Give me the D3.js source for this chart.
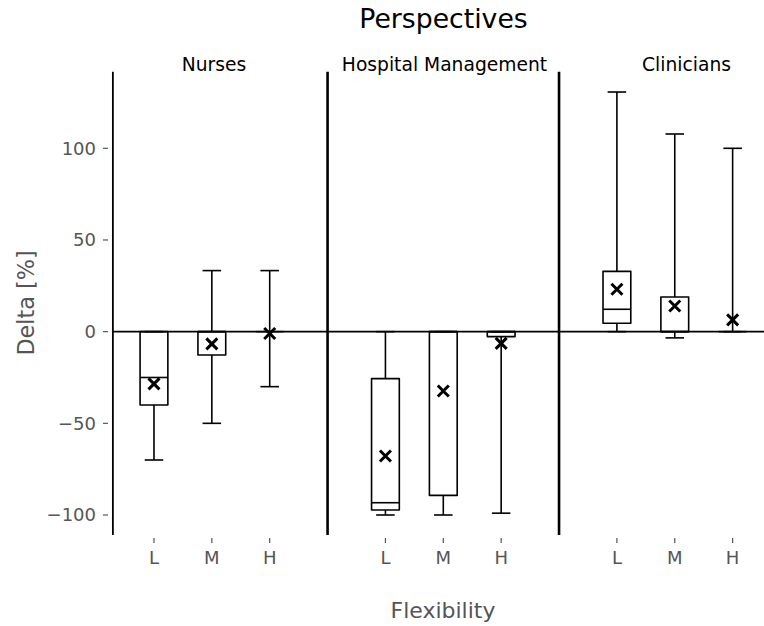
<!DOCTYPE html>
<html>
<head>
<meta charset="utf-8">
<script src="https://cdn.jsdelivr.net/npm/d3@7"></script>
<style>
  body { margin: 0; background: #fff; }
  text { font-family: 'DejaVu Sans', sans-serif; }
</style>
</head>
<body>
<svg id="chart" width="764" height="626"></svg>
<script>
// Data
const groups = ['Nurses', 'Hospital Management', 'Clinicians']
const levels = ['L', 'M', 'H']
const yTicks = [-100, -50, 0, 50, 100]
// one entry per box: Nurses L,M,H / Hospital Management L,M,H / Clinicians L,M,H
const whiskerLow = [-70, -50, -30, -100, -100, -99, 0, -3.4, 0]
const q1 = [-40, -12.7, 0, -97.3, -89.3, -2.7, 4.6, 0, 0]
const median = [-25, 0, 0, -93.3, 0, 0, 12.2, 0, 0]
const q3 = [0, 0, 0, -25.6, 0, 0, 32.9, 18.9, 0]
const whiskerHigh = [0, 33.3, 33.3, 0, 0, 0, 130.7, 107.8, 100]
const means = [-28.5, -6.7, -1, -67.8, -32.4, -6.4, 23.1, 14.0, 6.4]

const W = 764
const H = 626

// box position: group g, level i -> 4*g + i + 1
const boxes = whiskerLow.map((_, k) => {
  const g = Math.floor(k / 3)
  const i = k % 3
  return {
    pos: 4 * g + i + 1,
    level: levels[i],
    low: whiskerLow[k], q1: q1[k], med: median[k], q3: q3[k], high: whiskerHigh[k], mean: means[k]
  }
})

const xScale = d3.scaleLinear().domain([0, 12]).range([96.1, 790.5])
const yScale = d3.scaleLinear().domain([-100, 100]).range([515, 148.3])
const xMin = 0.29
const yMin = -110.9
const yMax = 141.7

const svg = d3.select('#chart')

// Title
svg.append('text')
  .attr('x', 443.5).attr('y', 28)
  .attr('text-anchor', 'middle')
  .style('font-size', '26.7px')
  .text('Perspectives')

// Group labels
const groupCenters = [214, 444.5, 686.5]
svg.selectAll('.group-label')
  .data(groups)
  .enter()
  .append('text')
  .attr('class', 'group-label')
  .attr('x', (d, i) => groupCenters[i])
  .attr('y', 71)
  .attr('text-anchor', 'middle')
  .style('font-size', '18.7px')
  .text(d => d)

// Y ticks (drawn left of the spine)
const yAxisG = svg.append('g')
yAxisG.selectAll('line')
  .data(yTicks)
  .enter()
  .append('line')
  .attr('x1', 103).attr('x2', 108)
  .attr('y1', d => yScale(d)).attr('y2', d => yScale(d))
  .attr('stroke', '#555').attr('stroke-width', 1.2)
yAxisG.selectAll('text')
  .data(yTicks)
  .enter()
  .append('text')
  .attr('x', 96)
  .attr('y', d => yScale(d))
  .attr('dy', '0.36em')
  .attr('text-anchor', 'end')
  .attr('fill', '#555')
  .style('font-size', '18px')
  .text(d => d < 0 ? '\u2212' + Math.abs(d) : d)

// X ticks
const xAxisG = svg.append('g')
xAxisG.selectAll('line')
  .data(boxes)
  .enter()
  .append('line')
  .attr('x1', d => xScale(d.pos)).attr('x2', d => xScale(d.pos))
  .attr('y1', 538).attr('y2', 543)
  .attr('stroke', '#555').attr('stroke-width', 1.2)
xAxisG.selectAll('text')
  .data(boxes)
  .enter()
  .append('text')
  .attr('x', d => xScale(d.pos))
  .attr('y', 564)
  .attr('text-anchor', 'middle')
  .attr('fill', '#555')
  .style('font-size', '18px')
  .text(d => d.level)

// Axis labels
svg.append('text')
  .attr('x', 443).attr('y', 618)
  .attr('text-anchor', 'middle')
  .attr('fill', '#555')
  .style('font-size', '22px')
  .text('Flexibility')

svg.append('text')
  .attr('transform', 'translate(34, 303) rotate(-90)')
  .attr('text-anchor', 'middle')
  .attr('fill', '#555')
  .style('font-size', '22.3px')
  .text('Delta [%]')

// Spine and separators
svg.append('line')
  .attr('x1', xScale(xMin)).attr('x2', xScale(xMin))
  .attr('y1', yScale(yMax)).attr('y2', yScale(yMin))
  .attr('stroke', '#000').attr('stroke-width', 1.8)
svg.selectAll('.sep')
  .data([4, 8])
  .enter()
  .append('line')
  .attr('class', 'sep')
  .attr('x1', d => xScale(d)).attr('x2', d => xScale(d))
  .attr('y1', yScale(yMax)).attr('y2', yScale(yMin))
  .attr('stroke', '#000').attr('stroke-width', 2.6)

// Zero line
svg.append('line')
  .attr('x1', xScale(xMin)).attr('x2', W)
  .attr('y1', yScale(0)).attr('y2', yScale(0))
  .attr('stroke', '#000').attr('stroke-width', 1.6)

// Boxes
const boxW = 0.48
const capW = 0.32
const bx = svg.selectAll('.box')
  .data(boxes)
  .enter()
  .append('g')
  .attr('class', 'box')
  .attr('stroke', '#000')
  .attr('stroke-width', 1.6)
  .attr('fill', 'none')
  .attr('stroke-linejoin', 'round')

// whiskers
bx.append('line')
  .attr('x1', d => xScale(d.pos)).attr('x2', d => xScale(d.pos))
  .attr('y1', d => yScale(d.low)).attr('y2', d => yScale(d.q1))
bx.append('line')
  .attr('x1', d => xScale(d.pos)).attr('x2', d => xScale(d.pos))
  .attr('y1', d => yScale(d.q3)).attr('y2', d => yScale(d.high))
// caps
bx.append('line')
  .attr('x1', d => xScale(d.pos - capW / 2)).attr('x2', d => xScale(d.pos + capW / 2))
  .attr('y1', d => yScale(d.low)).attr('y2', d => yScale(d.low))
bx.append('line')
  .attr('x1', d => xScale(d.pos - capW / 2)).attr('x2', d => xScale(d.pos + capW / 2))
  .attr('y1', d => yScale(d.high)).attr('y2', d => yScale(d.high))
// box
bx.append('rect')
  .attr('x', d => xScale(d.pos - boxW / 2))
  .attr('width', d => xScale(d.pos + boxW / 2) - xScale(d.pos - boxW / 2))
  .attr('y', d => yScale(d.q3))
  .attr('height', d => yScale(d.q1) - yScale(d.q3))
// median
bx.append('line')
  .attr('x1', d => xScale(d.pos - boxW / 2)).attr('x2', d => xScale(d.pos + boxW / 2))
  .attr('y1', d => yScale(d.med)).attr('y2', d => yScale(d.med))

// Mean markers (x)
const m = 5.5
svg.selectAll('.mean')
  .data(boxes)
  .enter()
  .append('path')
  .attr('class', 'mean')
  .attr('d', d => {
    const cx = xScale(d.pos)
    const cy = yScale(d.mean)
    return `M${cx - m},${cy - m}L${cx + m},${cy + m}M${cx - m},${cy + m}L${cx + m},${cy - m}`
  })
  .attr('stroke', '#000')
  .attr('stroke-width', 3)
</script>
</body>
</html>
